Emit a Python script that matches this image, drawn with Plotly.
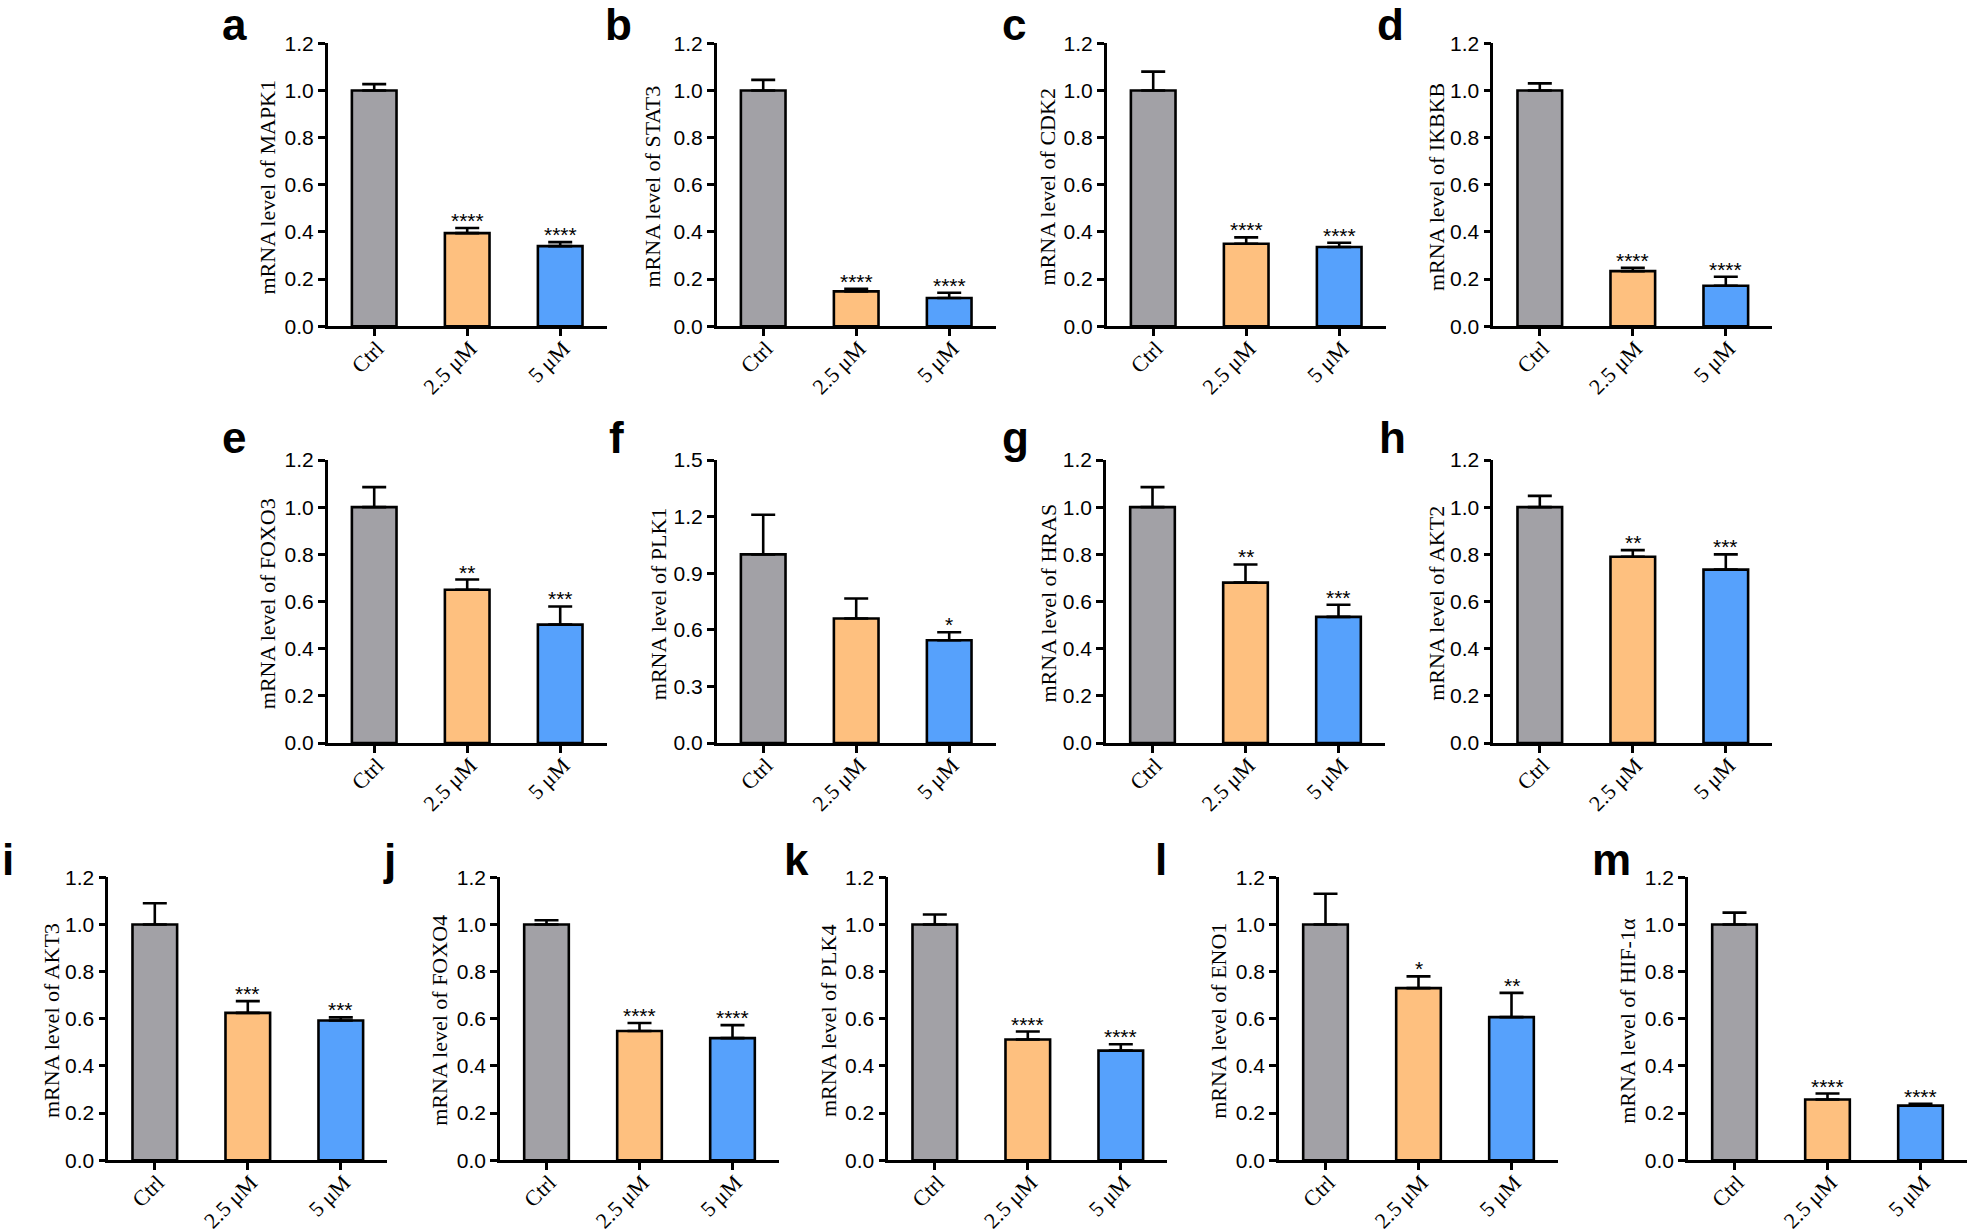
import plotly.graph_objects as go

# ---------------- data ----------------
genes = ["MAPK1", "STAT3", "CDK2", "IKBKB", "FOXO3", "PLK1", "HRAS", "AKT2",
         "AKT3", "FOXO4", "PLK4", "ENO1", "HIF-1α"]
panel_letters = ["a", "b", "c", "d", "e", "f", "g", "h", "i", "j", "k", "l", "m"]
groups = ["Ctrl", "2.5 μM", "5 μM"]

mean_ctrl = [1.0, 1.0, 1.0, 1.0, 1.0, 1.0, 1.0, 1.0, 1.0, 1.0, 1.0, 1.0, 1.0]
mean_25 = [0.395, 0.148, 0.350, 0.234, 0.650, 0.660, 0.680, 0.790, 0.625, 0.548, 0.512, 0.730, 0.258]
mean_5 = [0.340, 0.120, 0.336, 0.172, 0.502, 0.545, 0.535, 0.735, 0.593, 0.518, 0.465, 0.607, 0.232]

err_ctrl = [0.027, 0.045, 0.080, 0.030, 0.085, 0.210, 0.085, 0.048, 0.090, 0.018, 0.042, 0.130, 0.050]
err_25 = [0.022, 0.011, 0.027, 0.014, 0.043, 0.106, 0.077, 0.028, 0.050, 0.034, 0.034, 0.050, 0.025]
err_5 = [0.017, 0.022, 0.018, 0.038, 0.077, 0.042, 0.051, 0.065, 0.013, 0.055, 0.027, 0.103, 0.008]

stars_25 = ["****", "****", "****", "****", "**", "", "**", "**", "***", "****", "****", "*", "****"]
stars_5 = ["****", "****", "****", "****", "***", "*", "***", "***", "***", "****", "****", "**", "****"]

y_max = [1.2, 1.2, 1.2, 1.2, 1.2, 1.5, 1.2, 1.2, 1.2, 1.2, 1.2, 1.2, 1.2]
y_step = [0.2, 0.2, 0.2, 0.2, 0.2, 0.3, 0.2, 0.2, 0.2, 0.2, 0.2, 0.2, 0.2]

# ---------------- layout constants (pixels) ----------------
W, H = 1974, 1232
axis_left = [327.7, 716.7, 1106.7, 1493.3, 327.7, 716.7, 1106.0, 1493.3,
             108.3, 500.0, 888.3, 1279.0, 1688.0]
panel_row = [0, 0, 0, 0, 1, 1, 1, 1, 2, 2, 2, 2, 2]
row_top = [43.3, 460.0, 877.3]
plot_w, plot_h = 279.0, 283.0
letter_pos = [(220, 40), (603, 40), (1000, 40), (1375, 40),
              (220, 453), (607, 453), (1000, 453), (1377, 453),
              (0, 875), (381, 875), (782, 875), (1153, 875), (1590, 875)]
title_dx = [60, 64, 59, 57, 60, 58, 58, 57, 57, 60, 60, 60, 60]
LETTER_SIZE = 44

colors = ["#a2a1a6", "#fec07f", "#56a1fc"]
LW = 2.6

fig = go.Figure()
layout = dict(width=W, height=H, margin=dict(l=0, r=0, t=0, b=0, autoexpand=False),
              paper_bgcolor="white", plot_bgcolor="white", showlegend=False)
annotations = []

for i in range(len(genes)):
    sx = "" if i == 0 else str(i + 1)
    L = axis_left[i]
    T = row_top[panel_row[i]]
    layout["xaxis" + sx] = dict(
        domain=[L / W, (L + plot_w) / W], anchor="y" + sx, automargin=False,
        type="category", range=[-0.5, 2.5],
        showline=True, linecolor="black", linewidth=LW,
        ticks="outside", ticklen=7, tickwidth=LW, tickcolor="black",
        tickangle=-45, ticklabelstandoff=-9, ticklabelshift=3,
        tickfont=dict(family="Liberation Serif", size=22, color="black"),
        showgrid=False, zeroline=False)
    nt = int(round(y_max[i] / y_step[i]))
    tv = [round(k * y_step[i], 2) for k in range(nt + 1)]
    layout["yaxis" + sx] = dict(
        domain=[1 - (T + plot_h) / H, 1 - T / H], anchor="x" + sx, automargin=False,
        range=[0, y_max[i]], tickvals=tv, tickformat=".1f",
        showline=True, linecolor="black", linewidth=LW,
        ticks="outside", ticklen=7, tickwidth=LW, tickcolor="black",
        tickfont=dict(family="Liberation Sans", size=21, color="black"),
        showgrid=False, zeroline=False)

    fig.add_trace(go.Bar(
        x=groups, y=[mean_ctrl[i], mean_25[i], mean_5[i]],
        width=0.48,
        marker=dict(color=colors, line=dict(color="black", width=LW)),
        error_y=dict(type="data", symmetric=False,
                     array=[err_ctrl[i], err_25[i], err_5[i]],
                     arrayminus=[0, 0, 0],
                     color="black", thickness=LW, width=12),
        xaxis="x" + sx, yaxis="y" + sx, hoverinfo="skip"))

    # significance stars
    for g, s, m, e in [(1, stars_25[i], mean_25[i], err_25[i]),
                       (2, stars_5[i], mean_5[i], err_5[i])]:
        if s:
            annotations.append(dict(
                x=groups[g], y=m + e, xref="x" + sx, yref="y" + sx,
                text=s, showarrow=False, yanchor="bottom", xanchor="center",
                yshift=-6,
                font=dict(family="Liberation Sans", size=21, color="black")))

    # y-axis title
    annotations.append(dict(
        x=(L - title_dx[i]) / W, y=1 - (T + plot_h / 2 + 2) / H,
        xref="paper", yref="paper", text="mRNA level of " + genes[i],
        textangle=-90, showarrow=False, xanchor="center", yanchor="middle",
        font=dict(family="Liberation Serif", size=22, color="black")))

    # panel letter
    lx, lb = letter_pos[i]
    annotations.append(dict(
        x=lx / W, y=1 - (lb - 0.3465 * LETTER_SIZE) / H, xref="paper", yref="paper",
        text=panel_letters[i], showarrow=False, xanchor="left", yanchor="middle",
        font=dict(family="Liberation Sans", size=LETTER_SIZE, color="black",
                  weight="bold")))

layout["annotations"] = annotations
fig.update_layout(**layout)
fig.write_html("out.html",
               config={"displayModeBar": False},
               post_script="document.body.style.margin='0px';"
                           "document.body.style.overflow='hidden';")
